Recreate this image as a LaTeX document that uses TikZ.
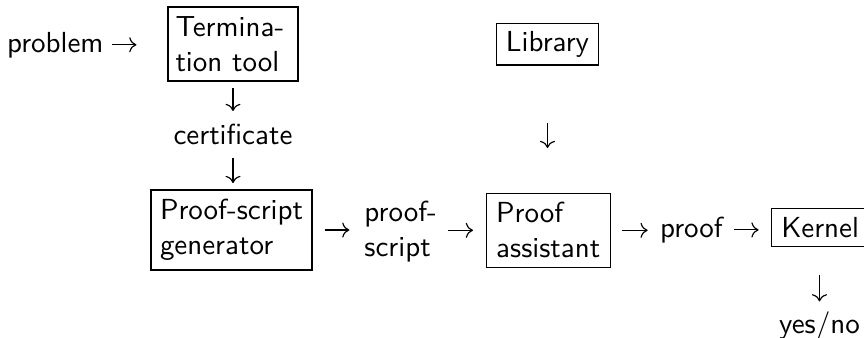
\documentclass[tikz,border=0pt]{standalone}
\usetikzlibrary{arrows.meta}
\begin{document}
\begin{tikzpicture}[x=0.3449pt,y=-0.3449pt,font=\sffamily,
  box/.style={draw,line width=0.4pt,inner ysep=0pt,align=left},
  lbl/.style={inner sep=0pt},
  arr/.style={-{Computer Modern Rightarrow},line width=0.4pt}]
\useasboundingbox (0,0) rectangle (864,337);
% boxes
\node[box,minimum width=44.84pt,minimum height=25.52pt,text width=39.66pt,inner xsep=2.59pt] (term) at (233,44) {Termina-\\tion tool};
\node[box,minimum width=55.53pt,minimum height=27.59pt,text width=49.32pt,inner xsep=3.10pt] (psg) at (231.5,230) {\mbox{Proof-script}\\generator};
\node[box,minimum width=42.77pt,minimum height=25.52pt,text width=36.21pt,inner xsep=3.28pt] (pa) at (548.7,230.3) {Proof\\assistant};
\node[box,align=center,minimum width=35.04pt,minimum height=14.38pt,inner xsep=0pt] (lib) at (547.5,44.2) {Library};
\node[box,anchor=west,text width=30pt,minimum height=13.24pt,inner xsep=3.45pt] (kernel) at (770.7,227.5) {Kernel};
% labels
\node[lbl,anchor=base west] (problem) at (6.5,52) {problem};
\node[lbl,anchor=base] (cert) at (233,144) {certificate};
\node[lbl,align=left] (ps) at (400.7,231.8) {proof-\\script};
\node[lbl,anchor=base west] (proof) at (659.5,237.3) {proof};
\node[lbl,anchor=base] (yn) at (819.5,333.3) {yes/no};
% connectors
\draw[arr,shorten <=2.69pt,shorten >=10.69pt] (problem.east) -- (problem.east -| term.west);
\draw[arr,shorten <=2.2pt,shorten >=4.14pt] (term.south) -- (term.south |- cert.north);
\draw[arr,shorten <=4.48pt,shorten >=2.2pt] (cert.south) -- (cert.south |- psg.north);
\draw[arr,shorten <=4.28pt,shorten >=5pt] (psg.east) -- (psg.east -| ps.west);
\draw[arr,shorten <=3.79pt,shorten >=4.52pt] (pa.west -| ps.east) -- (pa.west);
\draw[arr,shorten <=3.59pt,shorten >=4.07pt] (pa.east) -- (pa.east -| proof.west);
\draw[arr,shorten <=3.59pt,shorten >=4.17pt] (proof.east) -- (proof.east -| kernel.west);
\draw[arr,shorten <=9.55pt,shorten >=3.31pt] (kernel.south -| yn.north) -- (yn.north);
\draw[arr,shorten <=19.8pt,shorten >=15.42pt] (lib.south) -- (lib.south |- pa.north);
\end{tikzpicture}
\end{document}
